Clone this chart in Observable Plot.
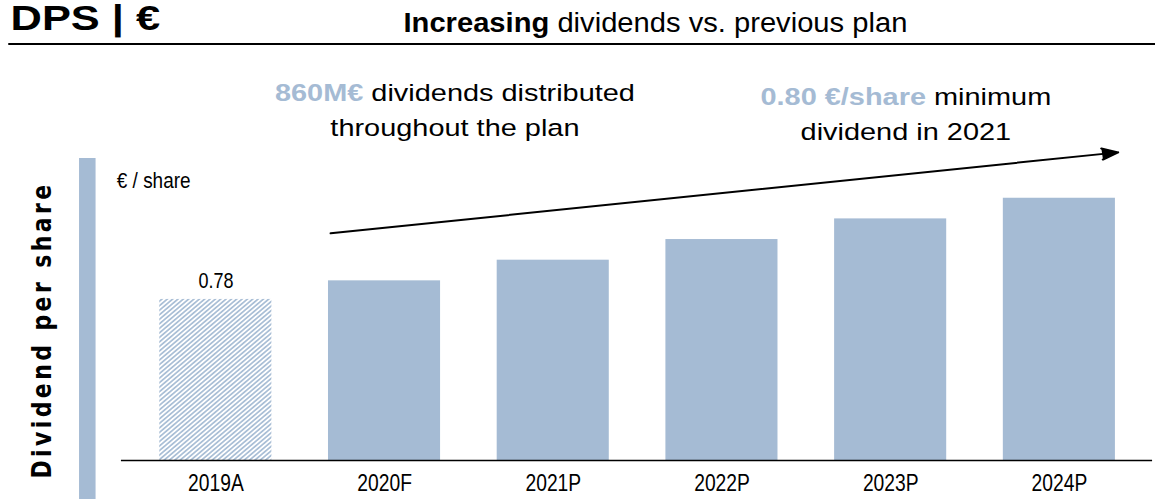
<!DOCTYPE html>
<html>
<head>
<meta charset="utf-8">
<script src="https://cdn.jsdelivr.net/npm/d3@7"></script>
<script src="https://cdn.jsdelivr.net/npm/@observablehq/plot@0.6"></script>
<style>
  html, body { margin: 0; padding: 0; background: #fff; overflow: hidden; }
  body { width: 1155px; height: 499px; }
  #page { position: relative; width: 979px; height: 499px; transform: scaleX(1.1798); transform-origin: 0 0;
          font-family: "Liberation Sans", Arial, sans-serif; color: #000; }
  .abs { position: absolute; white-space: nowrap; }
  .title { left: 8.5px; top: 0px; font-size: 35px; line-height: 35px; font-weight: bold; transform: scaleX(1.05); transform-origin: 0 0; }
  .subtitle { left: 341.5px; top: 10.3px; font-size: 27px; line-height: 27px; transform: scaleX(0.915); transform-origin: 0 0; }
  .hline { left: 6.8px; top: 43px; width: 980px; height: 2px; background: #000; }
  .sidebar { left: 67px; top: 158px; width: 13.5px; height: 341px; background: #a5bbd4; }
  .ylabel { left: 36.4px; top: 330px; transform: translate(-50%, -50%) rotate(-90deg);
            font-family: "DejaVu Sans", sans-serif; font-weight: bold; font-size: 22px; letter-spacing: 3.4px; }
  .unit { left: 99px; top: 169.5px; font-size: 22px; line-height: 22px; transform: scaleX(0.73); transform-origin: 0 0; }
  .note { font-size: 24.5px; line-height: 35px; text-align: center; transform: translateX(-50%); }
  .note b { color: #a5bbd4; }
  .n1 { left: 385.6px; top: 75px; }
  .n2 { left: 767.8px; top: 79px; }
  #chart { position: absolute; left: 0; top: 46px; }
</style>
</head>
<body>
<div id="page">
  <div class="abs title">DPS | €</div>
  <div class="abs subtitle"><b>Increasing</b> dividends vs. previous plan</div>
  <div class="abs hline"></div>
  <div class="abs sidebar"></div>
  <div class="abs ylabel">Dividend per share</div>
  <div class="abs unit">€ / share</div>
  <div id="chart"></div>
  <div class="abs note n1"><b>860M€</b> dividends distributed<br>throughout the plan</div>
  <div class="abs note n2"><b>0.80 €/share</b> minimum<br>dividend in 2021</div>
</div>
<script>
// ---- data ----
const years = ["2019A", "2020F", "2021P", "2022P", "2023P", "2024P"];
const dps = [0.78, 0.87, 0.97, 1.07, 1.17, 1.27];
const actualYears = ["2019A"];
const labelYears = ["2019A"];
const labelTexts = ["0.78"];
const trendFrom = ["2020F"];
const trendTo = ["2024P"];
const trendStart = [1.127];
const trendEnd = [1.463];

const BLUE = "#a5bbd4";
const FONT = '"Liberation Sans", Arial, sans-serif';

const rows = years.map((year, i) => ({year, dps: dps[i], actual: actualYears.includes(year)}));
const labels = labelYears.map((year, i) => ({year, dps: dps[years.indexOf(year)], text: labelTexts[i]}));
const trend = trendFrom.map((f, i) => ({from: f, to: trendTo[i], start: trendStart[i], end: trendEnd[i]}));

const chart = Plot.plot({
  width: 979,
  height: 453,
  marginLeft: 102.5,
  marginRight: 2.5,
  marginTop: 1,
  marginBottom: 39,
  style: {fontFamily: FONT, fontSize: "23px", color: "#000", background: "transparent", overflow: "visible"},
  x: {domain: years, paddingInner: 0.337, paddingOuter: 0.2175, tickSize: 0, tickPadding: 14, label: null},
  y: {domain: [0, 2], axis: null},
  marks: [
    Plot.barY(rows.filter(d => d.actual), {x: "year", y: "dps", fill: "url(#hatch)"}),
    Plot.barY(rows.filter(d => !d.actual), {x: "year", y: "dps", fill: BLUE}),
    Plot.ruleY([0], {stroke: "#000", strokeWidth: 1.5}),
    Plot.text(labels, {x: "year", y: "dps", text: "text", dy: -18, fontSize: 21.5, fill: "#000"}),
    Plot.arrow(trend, {x1: "from", x2: "to", y1: "start", y2: "end", stroke: "#000", fill: "#000",
      strokeWidth: 2, headLength: 11, headAngle: 45, insetStart: -46, insetEnd: -50})
  ]
});

// condensed look for the chart's small labels (no narrow font installed)
d3.select(chart).selectAll("text").each(function () {
  const t = this.getAttribute("transform");
  if (t) this.setAttribute("transform", t + " scale(0.71,1)");
  else {
    const x = +this.getAttribute("x") || 0;
    this.setAttribute("transform", `translate(${x},0) scale(0.71,1) translate(${-x},0)`);
  }
});

// hatch pattern for the actual (2019A) bar
const defs = d3.select(chart).insert("defs", ":first-child");
const pat = defs.append("pattern")
  .attr("id", "hatch").attr("patternUnits", "userSpaceOnUse")
  .attr("width", 3.2).attr("height", 3.2)
  .attr("patternTransform", "rotate(45)");
pat.append("rect").attr("width", 3.2).attr("height", 3.2).attr("fill", "#fff");
pat.append("line").attr("x1", 0.8).attr("y1", 0).attr("x2", 0.8).attr("y2", 3.2)
  .attr("stroke", BLUE).attr("stroke-width", 1.5);

document.getElementById("chart").appendChild(chart);
</script>
</body>
</html>
